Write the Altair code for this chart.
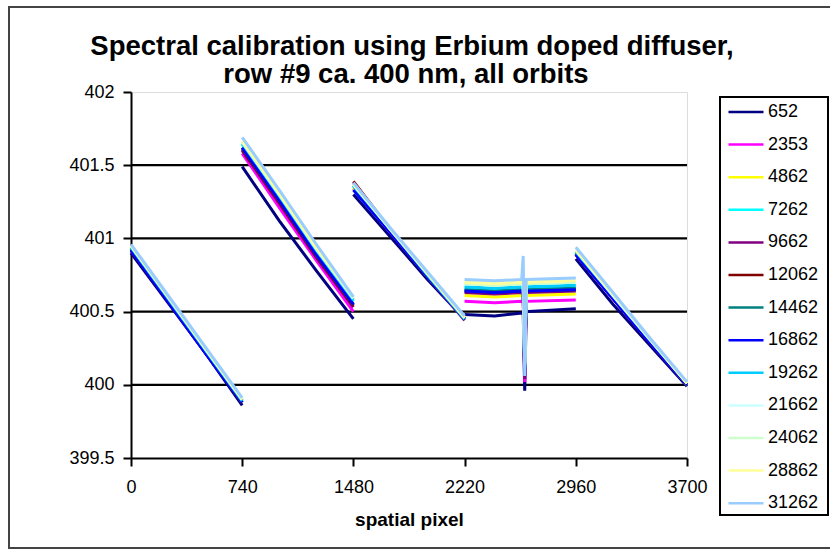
import altair as alt
import pandas as pd

orbits = ["652", "2353", "4862", "7262", "9662", "12062", "14462", "16862",
          "19262", "21662", "24062", "28862", "31262"]
line_colors = ["#000080", "#FF00FF", "#FFFF00", "#00FFFF", "#800080", "#800000",
               "#008080", "#0000FF", "#00CCFF", "#CCFFFF", "#CCFFCC", "#FFFF99", "#99CCFF"]

title_lines = ["Spectral calibration using Erbium doped diffuser,",
               "row #9 ca. 400 nm, all orbits"]
x_title = "spatial pixel"

pixel = [0, 247, 493, 740,
         740, 987, 1233, 1480,
         1480, 1727, 1973, 2220,
         2220, 2420, 2600, 2610, 2620, 2630, 2960,
         2960, 3207, 3453, 3700]
segment = ["a", "a", "a", "a",
           "b", "b", "b", "b",
           "c", "c", "c", "c",
           "d", "d", "d", "d", "d", "d", "d",
           "e", "e", "e", "e"]

w652 = [400.90, 400.56, 400.22, 399.86, 401.49, 401.12, 400.78, 400.45, 401.30, 401.01, 400.72, 400.45,
        400.48, 400.47, 400.49, 400.50, 399.96, 400.50, 400.52, 400.86, 400.55, 400.27, 399.99]
w2353 = [400.92, 400.58, 400.23, 399.89, 401.58, 401.21, 400.85, 400.50, 401.34, 401.04, 400.74, 400.45,
         400.57, 400.56, 400.57, 400.57, 400.02, 400.57, 400.58, 400.89, 400.59, 400.29, 400.00]
w4862 = [400.93, 400.58, 400.23, 399.88, 401.62, 401.25, 400.88, 400.54, 401.35, 401.05, 400.74, 400.45,
         400.61, 400.60, 400.61, 400.61, 400.10, 400.61, 400.62, 400.90, 400.60, 400.30, 400.00]
w7262 = [400.94, 400.59, 400.24, 399.89, 401.64, 401.28, 400.91, 400.57, 401.36, 401.05, 400.75, 400.45,
         400.66, 400.65, 400.66, 400.66, 400.12, 400.66, 400.67, 400.91, 400.60, 400.30, 400.00]
w9662 = [400.92, 400.57, 400.22, 399.88, 401.60, 401.24, 400.87, 400.53, 401.38, 401.05, 400.74, 400.44,
         400.63, 400.62, 400.63, 400.63, 400.04, 400.63, 400.64, 400.89, 400.59, 400.29, 400.00]
w12062 = [400.93, 400.58, 400.23, 399.88, 401.61, 401.25, 400.88, 400.54, 401.39, 401.06, 400.75, 400.45,
          400.64, 400.63, 400.64, 400.64, 400.08, 400.64, 400.65, 400.90, 400.60, 400.30, 400.00]
w14462 = [400.93, 400.58, 400.23, 399.89, 401.62, 401.26, 400.89, 400.55, 401.36, 401.05, 400.75, 400.45,
          400.65, 400.64, 400.65, 400.65, 400.10, 400.65, 400.66, 400.90, 400.60, 400.30, 400.00]
w16862 = [400.92, 400.57, 400.22, 399.88, 401.62, 401.26, 400.89, 400.55, 401.33, 401.04, 400.74, 400.45,
          400.64, 400.63, 400.64, 400.64, 400.06, 400.64, 400.65, 400.89, 400.59, 400.29, 400.00]
w19262 = [400.94, 400.59, 400.24, 399.89, 401.65, 401.29, 400.92, 400.58, 401.36, 401.06, 400.75, 400.45,
          400.67, 400.66, 400.67, 400.67, 400.12, 400.67, 400.68, 400.91, 400.61, 400.31, 400.01]
w21662 = [400.95, 400.60, 400.25, 399.90, 401.66, 401.30, 400.93, 400.59, 401.37, 401.06, 400.76, 400.46,
          400.69, 400.68, 400.69, 400.69, 400.14, 400.69, 400.70, 400.92, 400.61, 400.31, 400.01]
w24062 = [400.95, 400.60, 400.25, 399.90, 401.66, 401.30, 400.93, 400.59, 401.37, 401.06, 400.76, 400.46,
          400.69, 400.68, 400.69, 400.69, 400.14, 400.69, 400.70, 400.92, 400.62, 400.31, 400.01]
w28862 = [400.95, 400.60, 400.25, 399.90, 401.67, 401.31, 400.94, 400.60, 401.37, 401.07, 400.76, 400.46,
          400.70, 400.69, 400.70, 400.70, 400.15, 400.70, 400.71, 400.92, 400.62, 400.32, 400.01]
w31262 = [400.96, 400.61, 400.26, 399.91, 401.69, 401.33, 400.96, 400.60, 401.38, 401.07, 400.77, 400.47,
          400.72, 400.71, 400.72, 400.88, 400.06, 400.72, 400.73, 400.94, 400.63, 400.32, 400.02]

series_values = [w652, w2353, w4862, w7262, w9662, w12062, w14462, w16862,
                 w19262, w21662, w24062, w28862, w31262]

x_ticks = [0, 740, 1480, 2220, 2960, 3700]
y_ticks = [399.5, 400, 400.5, 401, 401.5, 402]
grid_values = [400, 400.5, 401, 401.5]

rows = []
for name, vals in zip(orbits, series_values):
    for xv, sg, yv in zip(pixel, segment, vals):
        rows.append({"pixel": xv, "seg": sg, "orbit": name, "wl": yv})
df = pd.DataFrame(rows)

FONT = "Liberation Sans"

x_scale = alt.Scale(domain=[0, 3700], nice=False, zero=False)
y_scale = alt.Scale(domain=[399.5, 402], nice=False, zero=False)

grid = alt.Chart(pd.DataFrame({"g": grid_values})).mark_rule(
    color="black", strokeWidth=2.2
).encode(y=alt.Y("g:Q", scale=y_scale))

lines = alt.Chart(df).mark_line(strokeWidth=3).encode(
    x=alt.X("pixel:Q", scale=x_scale,
            axis=alt.Axis(values=x_ticks, format="d", title=x_title,
                          grid=False, labelFont=FONT, labelFontSize=18,
                          labelColor="black", labelPadding=12, labelFlush=False,
                          tickSize=8, tickColor="black", tickWidth=2,
                          domainColor="black", domainWidth=2,
                          titleFont=FONT, titleFontSize=19, titleFontWeight="bold",
                          titleColor="black", titlePadding=14)),
    y=alt.Y("wl:Q", scale=y_scale,
            axis=alt.Axis(values=y_ticks, labelExpr="'' + datum.value", title=None,
                          grid=False, labelFont=FONT, labelFontSize=18,
                          labelColor="black", labelPadding=9,
                          tickSize=8, tickColor="black", tickWidth=2,
                          domainColor="black", domainWidth=2)),
    color=alt.Color("orbit:N",
                    scale=alt.Scale(domain=orbits, range=line_colors),
                    sort=orbits,
                    legend=alt.Legend(title=None, orient="none", legendX=596, legendY=1,
                                      padding=0,
                                      symbolType="stroke", symbolSize=1225,
                                      symbolStrokeWidth=2.5, labelFont=FONT,
                                      labelFontSize=18, labelColor="black",
                                      labelOffset=3, rowPadding=4.6)),
    detail="seg:N",
)

blank = pd.DataFrame({"a": [0]})

title1 = alt.Chart(blank).mark_text(
    text=title_lines[0], font=FONT, fontSize=27.5, fontWeight="bold", color="black",
    align="center", baseline="alphabetic"
).encode(x=alt.value(281), y=alt.value(-37))

title2 = alt.Chart(blank).mark_text(
    text=title_lines[1], font=FONT, fontSize=27.5, fontWeight="bold", color="black",
    align="center", baseline="alphabetic"
).encode(x=alt.value(275), y=alt.value(-9))

legend_box = alt.Chart(blank).mark_rect(
    fill=None, stroke="black", strokeWidth=2
).encode(x=alt.value(589), x2=alt.value(697), y=alt.value(5), y2=alt.value(423))

frame = alt.Chart(blank).mark_rect(
    fill=None, stroke="#444444", strokeWidth=2
).encode(x=alt.value(-122), x2=alt.value(720), y=alt.value(-85), y2=alt.value(456))

chart = alt.layer(grid, lines, title1, title2, legend_box, frame).properties(
    width=556, height=366,
    autosize=alt.AutoSizeParams(type="none"),
    padding={"left": 131, "top": 92, "right": 143, "bottom": 92},
).configure_view(stroke="#808080", strokeWidth=2).configure(background="white")

chart.save("out.html", embed_options={"renderer": "svg", "actions": False})
